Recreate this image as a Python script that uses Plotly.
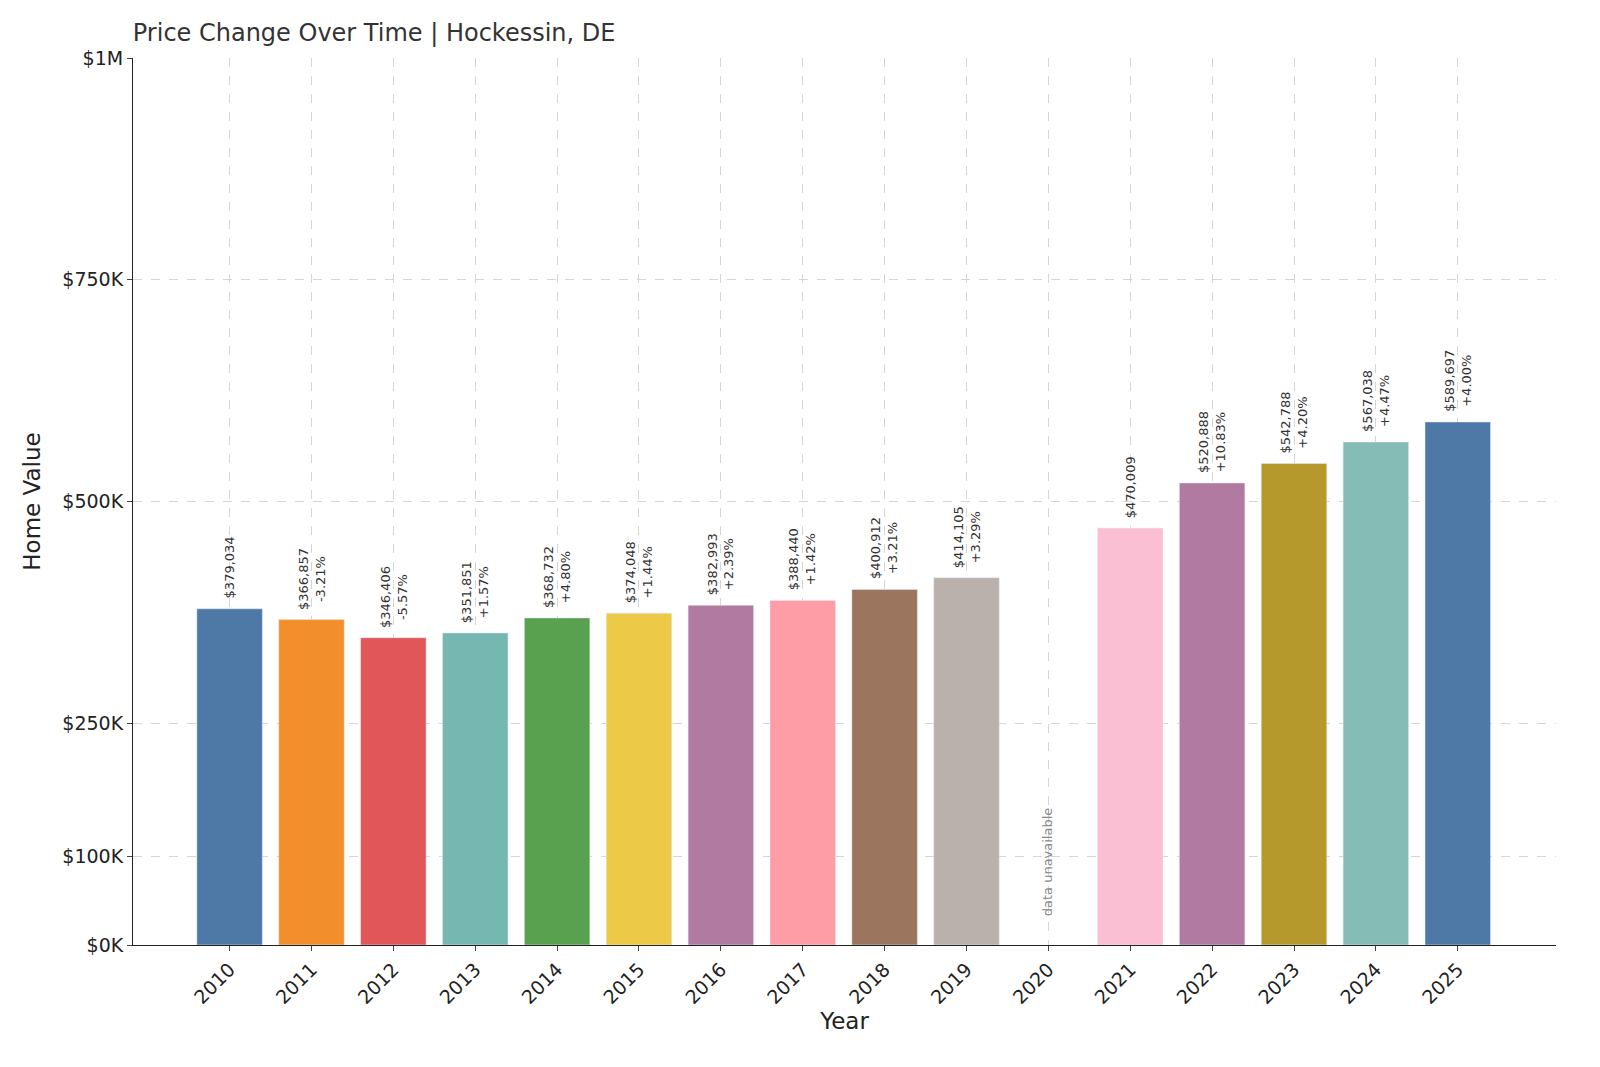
import plotly.graph_objects as go

years = [2010, 2011, 2012, 2013, 2014, 2015, 2016, 2017, 2018, 2019, 2021, 2022, 2023, 2024, 2025]
values = [379034, 366857, 346406, 351851, 368732, 374048, 382993, 388440, 400912, 414105,
          470009, 520888, 542788, 567038, 589697]
changes = ["", "-3.21%", "-5.57%", "+1.57%", "+4.80%", "+1.44%", "+2.39%", "+1.42%", "+3.21%", "+3.29%",
           "", "+10.83%", "+4.20%", "+4.47%", "+4.00%"]
colors = ["#4e79a7", "#f28e2b", "#e15759", "#76b7b2", "#59a14f", "#edc948", "#b07aa1", "#ff9da7",
          "#9c755f", "#bab0ac", "#fabfd2", "#b07aa1", "#b6992d", "#86bcb6", "#4e79a7"]
tick_vals = [0, 100000, 250000, 500000, 750000, 1000000]
tick_text = ["$0K", "$100K", "$250K", "$500K", "$750K", "$1M"]
all_years = list(range(2010, 2026))

fig = go.Figure()
fig.add_trace(go.Bar(x=years, y=values, marker_color=colors, width=0.8, hoverinfo="x+y"))

for yr, v, c in zip(years, values, changes):
    txt = f"${v:,}" + (f"<br>{c}" if c else "")
    fig.add_annotation(x=yr, y=v, text=txt, textangle=-90, showarrow=False,
                       yanchor="bottom", yshift=8, font=dict(size=13, color="#333"))

fig.add_annotation(x=2020, y=30000, text="data unavailable", textangle=-90, showarrow=False,
                   yanchor="bottom", font=dict(size=13, color="#888"))

fig.update_layout(
    width=1600, height=1067,
    plot_bgcolor="white", paper_bgcolor="white",
    font=dict(family="DejaVu Sans", size=19, color="#222"),
    title=dict(text="Price Change Over Time | Hockessin, DE", x=0.078, xanchor="left",
               y=0.985, font=dict(size=24, color="#333")),
    margin=dict(l=125, r=52, t=50, b=130),
    showlegend=False,
    xaxis=dict(title=dict(text="Year", standoff=5), range=[2008.82, 2026.2], tickmode="array",
               tickvals=all_years, tickangle=-45, showgrid=True, gridcolor="#d5d5d5",
               griddash="dash", showline=True, linecolor="#222", ticks="outside", zeroline=False),
    yaxis=dict(title="Home Value", range=[0, 1000000], tickmode="array", tickvals=tick_vals,
               ticktext=tick_text, showgrid=True, gridcolor="#d5d5d5", griddash="dash",
               showline=True, linecolor="#222", ticks="outside", zeroline=False),
)

fig.write_html("out.html")
